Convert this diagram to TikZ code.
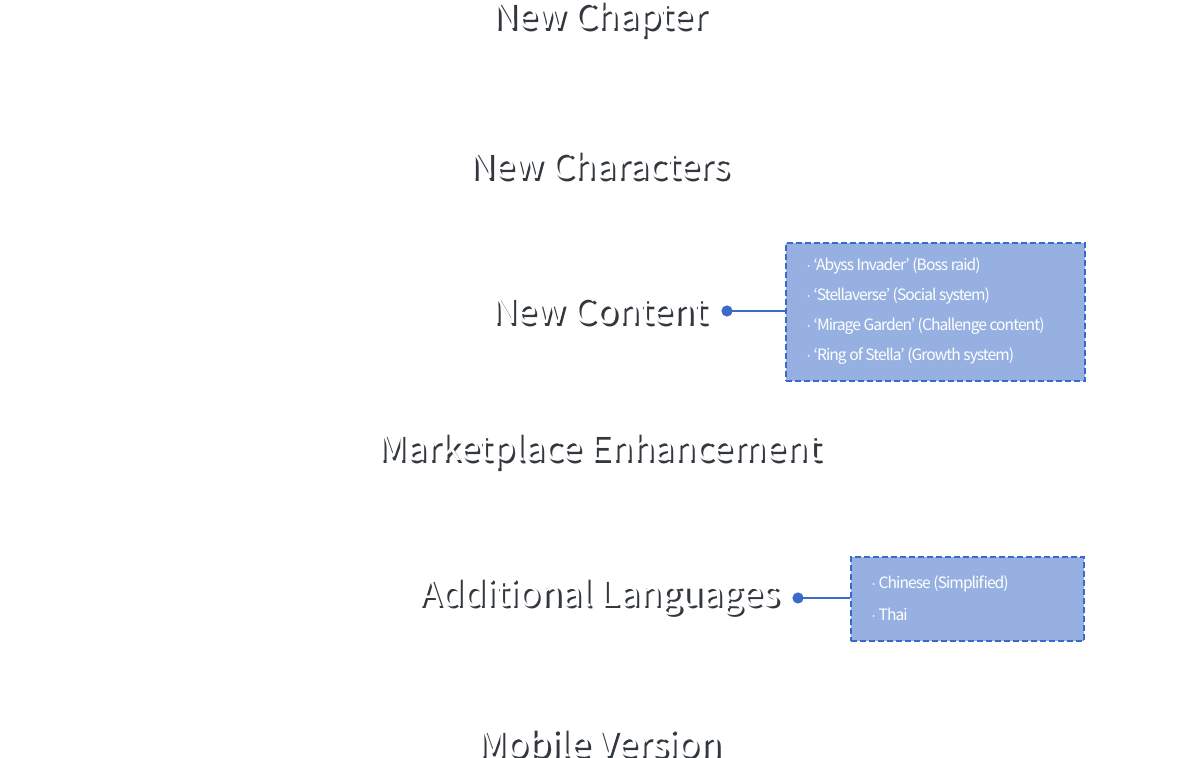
\documentclass[tikz,border=0pt]{standalone}
\usepackage{fontspec}
\setmainfont{Noto Sans CJK KR}
\usetikzlibrary{positioning}

\definecolor{boxfill}{HTML}{96B1E1}
\definecolor{boxline}{HTML}{3A6BCB}
\definecolor{shadowgray}{HTML}{33383E}

\newcommand{\shadowed}[1]{\makebox[0pt][l]{\hspace{1.1pt}\raisebox{-1.1pt}{\textcolor{shadowgray}{#1}}}#1}

\begin{document}
\begin{tikzpicture}[x=0.5pt, y=-0.5pt]
\tikzstyle{Heading}=[text = white, inner sep = 0pt,
                     font = \fontsize{17.8}{20}\selectfont]
\tikzstyle{ItemBox}=[draw = boxline, fill = boxfill, dashed,
                     line width = 1pt, dash pattern = on 3pt off 1.5pt,
                     anchor = north west, inner sep = 0pt]
\tikzstyle{Item}=[text = white, anchor = west, inner sep = 0pt,
                  font = \fontsize{7.8}{10}\selectfont\addfontfeature{LetterSpace=-6}]
\tikzstyle{Dot}=[circle, fill = boxline, inner sep = 0pt, minimum size = 5.6pt]
\useasboundingbox (0,0) rectangle (1200,758);
\node[Heading] (chapter) at (600, 20) {\shadowed{New Chapter}};
\node[Heading] (chars) at (600, 166) {\shadowed{New Characters}};
\node[Heading] (content) at (600, 312) {\shadowed{New Content}};
\node[Heading] (market) at (600, 452) {\shadowed{Marketplace Enhancement}};
\node[Heading] (lang) at (600, 598) {\shadowed{Additional Languages}};
\node[Heading] (mobile) at (600, 744) {\shadowed{Mobile Version}};
% content box
\node[ItemBox, minimum width = 149.5pt, minimum height = 69pt] (contentbox) at (785, 242) {};
\node[Dot] (contentdot) at (727, 311) {};
\draw[boxline, line width = 1pt] (contentdot.center) -- (contentbox.west |- contentdot);
\node[Item] (abyss) at (806, 266) {$\cdot$ ‘Abyss Invader’ (Boss raid)};
\node[Item] (stella) at (806, 296) {$\cdot$ ‘Stellaverse’ (Social system)};
\node[Item] (mirage) at (806, 326) {$\cdot$ ‘Mirage Garden’ (Challenge content)};
\node[Item] (ring) at (806, 356) {$\cdot$ ‘Ring of Stella’ (Growth system)};
% language box
\node[ItemBox, minimum width = 116.5pt, minimum height = 42pt] (langbox) at (850, 556) {};
\node[Dot] (langdot) at (798, 598) {};
\draw[boxline, line width = 1pt] (langdot.center) -- (langbox.west |- langdot);
\node[Item] (chinese) at (871, 584) {$\cdot$ Chinese (Simplified)};
\node[Item] (thai) at (871, 614) {$\cdot$ Thai};
\end{tikzpicture}
\end{document}
